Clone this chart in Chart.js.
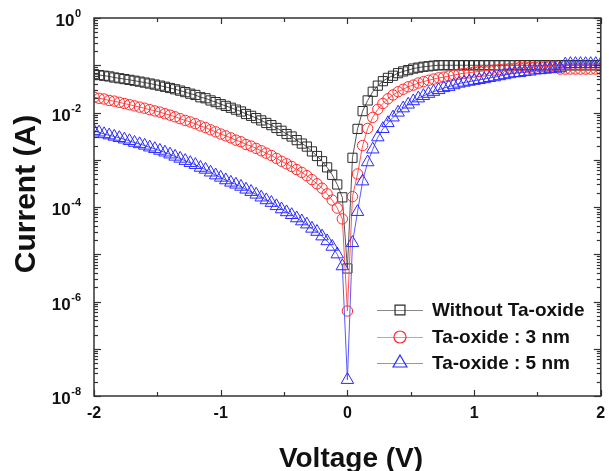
<!DOCTYPE html>
<html>
<head>
<meta charset="utf-8">
<script src="https://cdn.jsdelivr.net/npm/chart.js@4.4.1/dist/chart.umd.min.js"></script>
<style>
body{margin:0;background:#fff;}
canvas{display:block;}
</style>
</head>
<body>
<canvas id="chart" width="609" height="471"></canvas>
<script>
// voltage sweep (V)
const voltage = [
-2.00,-1.96,-1.92,-1.88,-1.84,-1.80,-1.76,-1.72,-1.68,-1.64,
-1.60,-1.56,-1.52,-1.48,-1.44,-1.40,-1.36,-1.32,-1.28,-1.24,
-1.20,-1.16,-1.12,-1.08,-1.04,-1.00,-0.96,-0.92,-0.88,-0.84,
-0.80,-0.76,-0.72,-0.68,-0.64,-0.60,-0.56,-0.52,-0.48,-0.44,
-0.40,-0.36,-0.32,-0.28,-0.24,-0.20,-0.16,-0.12,-0.08,-0.04,
0,
0.04,0.08,0.12,0.16,0.20,0.24,0.28,0.32,0.36,0.40,
0.44,0.48,0.52,0.56,0.60,0.64,0.68,0.72,0.76,0.80,
0.84,0.88,0.92,0.96,1.00,1.04,1.08,1.12,1.16,1.20,
1.24,1.28,1.32,1.36,1.40,1.44,1.48,1.52,1.56,1.60,
1.64,1.68,1.72,1.76,1.80,1.84,1.88,1.92,1.96,2.00
];

// current (A), without Ta-oxide
const currentNoOxide = [
6.5e-2,6.2e-2,6.0e-2,5.8e-2,5.5e-2,5.3e-2,5.1e-2,4.9e-2,4.7e-2,4.5e-2,
4.3e-2,4.1e-2,3.9e-2,3.7e-2,3.5e-2,3.3e-2,3.1e-2,2.9e-2,2.7e-2,2.5e-2,
2.35e-2,2.1e-2,2.0e-2,1.8e-2,1.66e-2,1.5e-2,1.38e-2,1.26e-2,1.15e-2,1.05e-2,
9.3e-3,8.5e-3,7.6e-3,6.8e-3,6.0e-3,5.4e-3,4.7e-3,4.1e-3,3.5e-3,3.1e-3,
2.6e-3,2.2e-3,1.9e-3,1.5e-3,1.2e-3,9.3e-4,6.9e-4,4.8e-4,3.0e-4,1.6e-4,
5.0e-6,
1.1e-3,4.5e-3,1.07e-2,1.8e-2,2.75e-2,3.7e-2,4.6e-2,5.4e-2,6.0e-2,6.8e-2,
7.4e-2,7.9e-2,8.5e-2,8.9e-2,9.3e-2,9.5e-2,9.8e-2,0.1,0.1,0.1,
0.1,0.1,0.1,0.1,0.1,0.1,0.1,0.1,0.1,0.1,
0.1,0.1,0.1,0.1,0.1,0.1,0.1,0.1,0.1,0.1,
0.1,0.1,0.1,0.1,0.1,0.1,0.1,0.1,0.1,0.1
];

// current (A), Ta-oxide 3 nm
const currentOxide3 = [
2.1e-2,2.0e-2,1.93e-2,1.8e-2,1.74e-2,1.64e-2,1.55e-2,1.46e-2,1.38e-2,1.3e-2,
1.23e-2,1.15e-2,1.08e-2,1.02e-2,9.4e-3,8.8e-3,8.1e-3,7.4e-3,6.8e-3,6.3e-3,
5.8e-3,5.2e-3,4.8e-3,4.3e-3,3.9e-3,3.5e-3,3.2e-3,2.9e-3,2.6e-3,2.4e-3,
2.1e-3,1.95e-3,1.74e-3,1.55e-3,1.38e-3,1.23e-3,1.07e-3,9.3e-4,8.2e-4,7.2e-4,
6.2e-4,5.4e-4,4.6e-4,3.8e-4,3.1e-4,2.5e-4,1.9e-4,1.4e-4,9.5e-5,5.6e-5,
6.3e-7,
1.66e-4,5.0e-4,2.0e-3,4.6e-3,7.9e-3,1.17e-2,1.55e-2,1.95e-2,2.35e-2,2.75e-2,
3.1e-2,3.5e-2,3.8e-2,4.2e-2,4.5e-2,4.8e-2,5.1e-2,5.4e-2,5.6e-2,5.9e-2,
6.2e-2,6.5e-2,6.8e-2,6.9e-2,7.2e-2,7.4e-2,7.6e-2,7.8e-2,7.9e-2,8.1e-2,
8.3e-2,8.5e-2,8.7e-2,8.9e-2,8.9e-2,9.1e-2,9.1e-2,9.3e-2,9.3e-2,9.5e-2,
9.5e-2,8.3e-2,8.3e-2,8.3e-2,8.3e-2,8.3e-2,8.3e-2,8.3e-2,8.3e-2,8.3e-2
];

// current (A), Ta-oxide 5 nm
const currentOxide5 = [
4.1e-3,3.8e-3,3.5e-3,3.3e-3,3.1e-3,2.9e-3,2.7e-3,2.5e-3,2.3e-3,2.15e-3,
2.0e-3,1.83e-3,1.7e-3,1.56e-3,1.43e-3,1.3e-3,1.17e-3,1.06e-3,9.5e-4,8.6e-4,
7.8e-4,6.8e-4,6.2e-4,5.4e-4,4.7e-4,4.2e-4,3.7e-4,3.3e-4,3.0e-4,2.7e-4,
2.35e-4,2.1e-4,1.84e-4,1.6e-4,1.4e-4,1.23e-4,1.05e-4,9.0e-5,7.8e-5,6.8e-5,
5.8e-5,5.0e-5,4.3e-5,3.5e-5,3.0e-5,2.4e-5,1.9e-5,1.45e-5,1.0e-5,5.6e-6,
2.2e-8,
1.74e-5,7.9e-5,3.5e-4,8.9e-4,1.66e-3,3.0e-3,4.5e-3,6.0e-3,7.9e-3,1.0e-2,
1.23e-2,1.48e-2,1.74e-2,2.0e-2,2.25e-2,2.5e-2,2.75e-2,3.0e-2,3.3e-2,3.5e-2,
3.8e-2,4.1e-2,4.3e-2,4.5e-2,4.7e-2,4.9e-2,5.1e-2,5.4e-2,5.6e-2,5.9e-2,
6.2e-2,6.5e-2,6.8e-2,6.9e-2,7.2e-2,7.4e-2,7.8e-2,7.9e-2,8.1e-2,8.3e-2,
8.5e-2,8.7e-2,0.105,0.107,0.107,0.107,0.107,0.107,0.107,0.107
];

const seriesNames = ["Without Ta-oxide", "Ta-oxide : 3 nm", "Ta-oxide : 5 nm"];

// tick labels
const xTicks = [-2, -1, 0, 1, 2];
const xMinorTicks = [-1.5, -0.5, 0.5, 1.5];
const yTickExps = [0, -2, -4, -6, -8];

const FONT = "'Liberation Sans', Arial, sans-serif";

const styles = [
  {marker: "rect", radius: 6.5, legendRadius: 7, color: "#2b2b2b", line: "#555555", legendLine: "#8a8a8a"},
  {marker: "circle", radius: 5.2, legendRadius: 6, color: "#ff2a2a", line: "#ff5555", legendLine: "#ff8c8c"},
  {marker: "triangle", radius: 7.2, legendRadius: 8, color: "#2a2aff", line: "#5a5aff", legendLine: "#8c8cff"}
];

function pts(ys){
  return voltage.map((v, i) => ({x: v, y: ys[i]}));
}

function mark(ctx, type, x, y, r){
  ctx.beginPath();
  if(type === "rect"){
    const s = r * Math.SQRT1_2;
    ctx.rect(x - s, y - s, 2*s, 2*s);
  }else if(type === "circle"){
    ctx.arc(x, y, r, 0, Math.PI*2);
  }else{
    ctx.moveTo(x, y - r);
    ctx.lineTo(x + r*Math.sin(Math.PI*2/3), y - r*Math.cos(Math.PI*2/3));
    ctx.lineTo(x + r*Math.sin(Math.PI*4/3), y - r*Math.cos(Math.PI*4/3));
    ctx.closePath();
  }
  ctx.stroke();
}

// FRAME, TICKS, LABELS, LEGEND
const decor = {
  id: "decor",
  afterDraw(chart){
    const {ctx, chartArea: a} = chart;
    const xs = chart.scales.x, ys = chart.scales.y;
    ctx.save();
    ctx.strokeStyle = "#333";
    ctx.lineWidth = 1.5;
    ctx.strokeRect(a.left, a.top, a.right - a.left, a.bottom - a.top);

    ctx.lineWidth = 1.2;
    const seg = (x1, y1, x2, y2) => { ctx.beginPath(); ctx.moveTo(x1, y1); ctx.lineTo(x2, y2); ctx.stroke(); };

    xTicks.forEach(v => {
      const px = Math.round(xs.getPixelForValue(v)) + 0.5;
      seg(px, a.bottom, px, a.bottom - 6);
      seg(px, a.top, px, a.top + 6);
    });
    xMinorTicks.forEach(v => {
      const px = Math.round(xs.getPixelForValue(v)) + 0.5;
      seg(px, a.bottom, px, a.bottom - 4);
      seg(px, a.top, px, a.top + 4);
    });
    for(let e = -8; e <= 0; e++){
      const py = Math.round(ys.getPixelForValue(Math.pow(10, e))) + 0.5;
      seg(a.left, py, a.left + 7, py);
      seg(a.right, py, a.right - 7, py);
      if(e < 0){
        for(let m = 2; m <= 9; m++){
          const q = Math.round(ys.getPixelForValue(m * Math.pow(10, e))) + 0.5;
          seg(a.left, q, a.left + 4, q);
          seg(a.right, q, a.right - 4, q);
        }
      }
    }

    ctx.fillStyle = "#111";
    // x tick labels
    ctx.font = "bold 16px " + FONT;
    ctx.textAlign = "center";
    ctx.textBaseline = "middle";
    xTicks.forEach(v => ctx.fillText(String(v), xs.getPixelForValue(v), 414));

    // y tick labels 10^n
    yTickExps.forEach(e => {
      const py = ys.getPixelForValue(Math.pow(10, e));
      const exp = String(e);
      ctx.textAlign = "right";
      ctx.textBaseline = "alphabetic";
      ctx.font = "bold 11px " + FONT;
      const w = ctx.measureText(exp).width;
      ctx.fillText(exp, 81, py - 1);
      ctx.font = "bold 17px " + FONT;
      ctx.fillText("10", 81 - w - 0.5, py + 8);
    });

    // axis titles
    ctx.textAlign = "center";
    ctx.textBaseline = "alphabetic";
    ctx.font = "bold 28px " + FONT;
    ctx.fillText("Voltage (V)", 351, 467);
    ctx.save();
    ctx.translate(35, 194);
    ctx.rotate(-Math.PI/2);
    ctx.font = "bold 30px " + FONT;
    ctx.fillText("Current (A)", 0, 0);
    ctx.restore();

    // legend
    const rows = [310, 337, 363];
    seriesNames.forEach((name, i) => {
      const st = styles[i], y = rows[i];
      ctx.strokeStyle = st.legendLine;
      ctx.lineWidth = 1;
      seg(377, y + 0.5, 423, y + 0.5);
      ctx.strokeStyle = st.color;
      ctx.lineWidth = 1.2;
      mark(ctx, st.marker, 400, y, st.legendRadius);
      ctx.fillStyle = "#111";
      ctx.font = "bold 19px " + FONT;
      ctx.textAlign = "left";
      ctx.textBaseline = "middle";
      ctx.fillText(name, 432, y + 1);
    });
    ctx.restore();
  }
};

const seriesData = [currentNoOxide, currentOxide3, currentOxide5];

const chart = new Chart(document.getElementById("chart").getContext("2d"), {
  type: "line",
  data: {
    datasets: seriesData.map((d, i) => ({
      label: seriesNames[i],
      data: pts(d),
      order: 3 - i,
      showLine: true,
      borderColor: styles[i].line,
      borderWidth: 1,
      pointStyle: styles[i].marker,
      pointRadius: styles[i].radius,
      pointBorderColor: styles[i].color,
      pointBackgroundColor: "rgba(255,255,255,0)",
      pointBorderWidth: 1,
      tension: 0
    }))
  },
  options: {
    responsive: false,
    animation: false,
    events: [],
    layout: {padding: {left: 0, top: 18, right: 3, bottom: 0}},
    plugins: {legend: {display: false}, tooltip: {enabled: false}},
    scales: {
      x: {
        type: "linear", min: -2, max: 2,
        grid: {display: false, drawTicks: false},
        border: {display: false},
        ticks: {display: false},
        afterFit: s => { s.height = 75; }
      },
      y: {
        type: "logarithmic", min: 1e-8, max: 1,
        grid: {display: false, drawTicks: false},
        border: {display: false},
        ticks: {display: false},
        afterFit: s => { s.width = 94; }
      }
    }
  },
  plugins: [decor]
});
</script>
</body>
</html>
